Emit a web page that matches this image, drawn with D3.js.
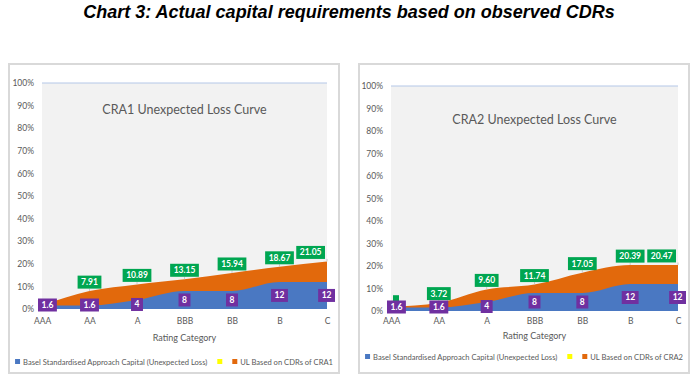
<!DOCTYPE html>
<html>
<head>
<meta charset="utf-8">
<script src="https://cdn.jsdelivr.net/npm/d3@7"></script>
<style>
  body { margin: 0; background: #fff; }
  svg { display: block; }
</style>
</head>
<body>
<svg id="chart" width="698" height="381"></svg>
<script>
const chartTitle = 'Chart 3: Actual capital requirements based on observed CDRs';
const categories = ['AAA', 'AA', 'A', 'BBB', 'BB', 'B', 'C'];
const yTicks = [0, 10, 20, 30, 40, 50, 60, 70, 80, 90, 100];

// Basel standardised approach capital (same for both CRAs)
const baselCapital = [1.6, 1.6, 4, 8, 8, 12, 12];
// UL based on CDRs
const ulCRA1 = [1.6, 7.91, 10.89, 13.15, 15.94, 18.67, 21.05];
const ulCRA2 = [1.9, 3.72, 9.60, 11.74, 17.05, 20.39, 20.47];

const baselName = 'Basel Standardised Approach Capital (Unexpected Loss)';

const colors = {
  blue: '#4a78c2',
  orange: '#e2690c',
  green: '#00a651',
  purple: '#7030a0',
  yellow: '#ffff00',
  text: '#595959',
  plotBg: '#f2f2f2',
  border: '#d9d9d9',
};

const FONT = 'Lato, "Open Sans", sans-serif';

const panels = [
  {
    cra: 'CRA1', ul: ulCRA1,
    box: { x0: 9, y0: 64, x1: 339, y1: 373 },
    plot: { left: 42, right: 327, top: 83, bottom: 309 },
    titleY: 114, xLabelY: 325, axisTitleY: 341, legendY: 362,
  },
  {
    cra: 'CRA2', ul: ulCRA2,
    box: { x0: 359, y0: 64, x1: 689, y1: 373 },
    plot: { left: 391, right: 678, top: 86, bottom: 311 },
    titleY: 124, xLabelY: 325, axisTitleY: 339, legendY: 357,
  },
];

const svg = d3.select('#chart');

svg.append('text')
  .attr('x', 349)
  .attr('y', 18)
  .attr('text-anchor', 'middle')
  .attr('font-family', '"Liberation Sans", Arial, sans-serif')
  .attr('font-weight', 'bold')
  .attr('font-style', 'italic')
  .attr('font-size', 18)
  .attr('fill', '#000')
  .text(chartTitle);

panels.forEach(p => drawPanel(p));

function drawPanel(p) {
  const g = svg.append('g');
  const { box, plot } = p;

  // panel frame
  g.append('rect')
    .attr('x', box.x0).attr('y', box.y0)
    .attr('width', box.x1 - box.x0).attr('height', box.y1 - box.y0)
    .attr('fill', '#fff')
    .attr('stroke', colors.border)
    .attr('stroke-width', 2);

  const x = d3.scalePoint()
    .domain(categories)
    .range([plot.left, plot.right]);

  const y = d3.scaleLinear()
    .domain([0, 100])
    .range([plot.bottom, plot.top]);

  // plot background
  g.append('rect')
    .attr('x', plot.left).attr('y', y(100))
    .attr('width', plot.right - plot.left)
    .attr('height', y(0) - y(100))
    .attr('fill', colors.plotBg);

  // top gridline
  g.append('line')
    .attr('x1', plot.left).attr('x2', plot.right)
    .attr('y1', y(100)).attr('y2', y(100))
    .attr('stroke', '#b4c7e7')
    .attr('stroke-width', 1);

  // y axis
  const yAxis = d3.axisLeft(y)
    .tickValues(yTicks)
    .tickSize(0)
    .tickPadding(8)
    .tickFormat(d => d + '%');
  g.append('g')
    .attr('transform', `translate(${plot.left},0)`)
    .call(yAxis)
    .call(a => a.select('.domain').remove())
    .call(a => a.selectAll('text')
      .attr('font-family', FONT)
      .attr('font-size', 8.5)
      .attr('fill', colors.text));

  // x axis labels
  const xAxis = d3.axisBottom(x).tickSize(0).tickPadding(0);
  g.append('g')
    .attr('transform', `translate(0,${p.xLabelY - 7})`)
    .call(xAxis)
    .call(a => a.select('.domain').remove())
    .call(a => a.selectAll('text')
      .attr('dy', '0.71em')
      .attr('font-family', FONT)
      .attr('font-size', 8.5)
      .attr('fill', colors.text));

  g.append('text')
    .attr('x', (plot.left + plot.right) / 2)
    .attr('y', p.axisTitleY)
    .attr('text-anchor', 'middle')
    .attr('font-family', FONT)
    .attr('font-size', 9)
    .attr('fill', colors.text)
    .text('Rating Category');

  // chart title inside plot
  g.append('text')
    .attr('x', (plot.left + plot.right) / 2)
    .attr('y', p.titleY)
    .attr('text-anchor', 'middle')
    .attr('font-family', FONT)
    .attr('font-size', 12.5)
    .attr('fill', colors.text)
    .text(`${p.cra} Unexpected Loss Curve`);

  // areas (overlapping, not stacked)
  const area = values => d3.area()
    .x((d, i) => x(categories[i]))
    .y0(y(0))
    .y1(d => y(d))
    .curve(d3.curveMonotoneX)(values);

  g.append('path')
    .attr('d', area(p.ul))
    .attr('fill', colors.orange);

  g.append('path')
    .attr('d', area(baselCapital))
    .attr('fill', colors.blue);

  // labels
  const labelH = 13;
  const makeLabel = (cx, cy, txt, fill, bounds, h = labelH) => {
    const lg = g.append('g');
    let w = 6;
    if (txt) {
      const t = lg.append('text')
        .attr('text-anchor', 'middle')
        .attr('dy', '0.35em')
        .attr('font-family', FONT)
        .attr('font-weight', 'bold')
        .attr('font-size', 8.5)
        .attr('fill', '#fff')
        .text(txt);
      w = t.node().getComputedTextLength() + 7;
    }
    let xx = cx;
    if (bounds) {
      xx = Math.max(bounds[0] + w / 2, Math.min(bounds[1] - w / 2, xx));
    }
    lg.insert('rect', 'text')
      .attr('x', -w / 2).attr('y', -h / 2)
      .attr('width', w).attr('height', h)
      .attr('fill', fill);
    lg.attr('transform', `translate(${xx},${cy})`);
    return lg;
  };

  // green labels for UL values with leader lines
  p.ul.forEach((v, i) => {
    if (i === 0 && v === baselCapital[i]) return;
    const cx = x(categories[i]);
    const cy = y(v) - 9;
    g.append('line')
      .attr('x1', cx).attr('x2', cx)
      .attr('y1', cy + labelH / 2).attr('y2', y(v))
      .attr('stroke', '#bfbfbf')
      .attr('stroke-width', 0.8);
    // the AAA label sits behind the purple one, only a sliver shows
    if (i === 0) {
      makeLabel(cx + 5, y(baselCapital[i] / 2) - 6, '', colors.green, null, 16);
    } else {
      makeLabel(cx, cy, v.toFixed(2), colors.green, [plot.left - 6, plot.right - 2]);
    }
  });

  // purple labels for Basel capital
  baselCapital.forEach((v, i) => {
    const cx = x(categories[i]);
    const cy = Math.min(y(v / 2), y(0) - 4);
    makeLabel(cx, cy, String(v), colors.purple, [plot.left - 4, plot.right + 8]);
  });

  // legend
  const lg = g.append('g').attr('transform', `translate(0,${p.legendY})`);
  const sq = 5;
  const items = [
    { color: colors.blue, label: baselName },
    { color: colors.yellow, label: '' },
    { color: colors.orange, label: `UL Based on CDRs of ${p.cra}` },
  ];
  let cursor = 0;
  items.forEach((it, k) => {
    const ig = lg.append('g').attr('transform', `translate(${cursor},0)`);
    ig.append('rect')
      .attr('x', 0).attr('y', -sq / 2 - 0.5)
      .attr('width', sq).attr('height', sq)
      .attr('fill', it.color);
    let w = sq;
    if (it.label) {
      const t = ig.append('text')
        .attr('x', sq + 3)
        .attr('dy', '0.35em')
        .attr('font-family', FONT)
        .attr('font-size', 7.6)
        .attr('fill', colors.text)
        .text(it.label);
      w += 3 + t.node().getComputedTextLength();
    }
    cursor += w + 10;
  });
  const totalW = cursor - 10;
  const cx = (box.x0 + box.x1) / 2;
  lg.attr('transform', `translate(${cx - totalW / 2},${p.legendY})`);
}
</script>
</body>
</html>
